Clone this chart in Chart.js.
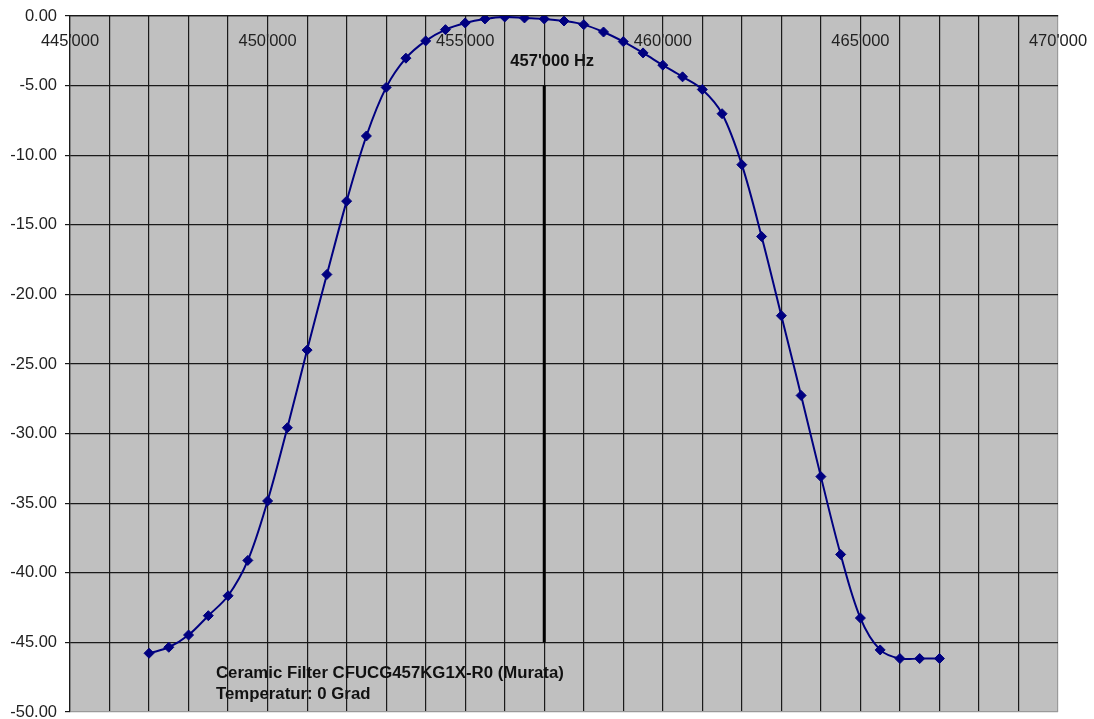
<!DOCTYPE html>
<html>
<head>
<meta charset="utf-8">
<script src="https://cdn.jsdelivr.net/npm/chart.js@4.4.1/dist/chart.umd.min.js"></script>
<style>
html,body{margin:0;padding:0;background:#ffffff;}
#wrap{width:1094px;height:719px;position:relative;}
</style>
</head>
<body>
<div id="wrap"><canvas id="chart"></canvas></div>
<script>
// ---- data ----
const frequencies = [
  447000, 447500, 448000, 448500, 449000, 449500, 450000, 450500, 451000, 451500,
  452000, 452500, 453000, 453500, 454000, 454500, 455000, 455500, 456000, 456500,
  457000, 457500, 458000, 458500, 459000, 459500, 460000, 460500, 461000, 461500,
  462000, 462500, 463000, 463500, 464000, 464500, 465000, 465500, 466000, 466500,
  467000
];
const attenuation = [
  -45.78, -45.35, -44.47, -43.08, -41.65, -39.11, -34.84, -29.58, -24.00, -18.57,
  -13.30, -8.62, -5.13, -3.03, -1.79, -0.98, -0.50, -0.21, -0.07, -0.14,
  -0.21, -0.36, -0.62, -1.15, -1.84, -2.65, -3.53, -4.37, -5.28, -7.02,
  -10.68, -15.84, -21.53, -27.26, -33.09, -38.68, -43.25, -45.54, -46.16, -46.16,
  -46.16
];
const markerFrequency = [457000, 457000];
const markerLevel = [-5, -45];
const markerLabel = "457'000 Hz";
const noteLines = ["Ceramic Filter CFUCG457KG1X-R0 (Murata)", "Temperatur: 0 Grad"];
const xMin = 445000, xMax = 470000, xGridStep = 1000, xLabelStep = 5000;
const yMin = -50, yMax = 0, yStep = 5;

// ---- helpers ----
const FONT = '"Liberation Sans", Arial, Helvetica, sans-serif';
function fmtThousands(v) {
  return String(Math.round(v)).replace(/\B(?=(\d{3})+(?!\d))/g, "'");
}

const plotBackground = {
  id: 'plotBackground',
  beforeDraw(chart) {
    const {ctx, chartArea: a} = chart;
    ctx.save();
    ctx.fillStyle = '#c0c0c0';
    ctx.fillRect(a.left, a.top, a.right - a.left, a.bottom - a.top);
    ctx.restore();
  }
};

const textNotes = {
  id: 'textNotes',
  afterDatasetsDraw(chart) {
    const {ctx, chartArea: a, scales: {x, y}} = chart;
    ctx.save();
    ctx.fillStyle = '#111111';
    ctx.font = 'bold 16.5px ' + FONT;
    ctx.textBaseline = 'middle';
    ctx.textAlign = 'center';
    ctx.fillText(markerLabel, x.getPixelForValue(markerFrequency[0]) + 8, y.getPixelForValue(markerLevel[0]) - 24);
    ctx.textAlign = 'left';
    ctx.font = 'bold 16.8px ' + FONT;
    ctx.fillText(noteLines[0], a.left + 146, a.bottom - 39);
    ctx.fillText(noteLines[1], a.left + 146, a.bottom - 18);
    ctx.restore();
  }
};

new Chart(document.getElementById('chart'), {
  type: 'line',
  data: {
    datasets: [
      {
        label: 'Attenuation',
        data: frequencies.map((f, i) => ({x: f, y: attenuation[i]})),
        borderColor: '#000080',
        backgroundColor: '#000080',
        borderWidth: 2,
        pointStyle: 'rectRot',
        pointRadius: 5,
        pointBorderWidth: 1,
        pointBorderColor: '#000080',
        tension: 0.35,
        fill: false
      },
      {
        label: 'Marker',
        data: markerFrequency.map((f, i) => ({x: f, y: markerLevel[i]})),
        borderColor: '#000000',
        borderWidth: 3,
        pointRadius: 0,
        tension: 0,
        fill: false
      }
    ]
  },
  options: {
    responsive: true,
    maintainAspectRatio: false,
    animation: false,
    events: [],
    layout: {padding: {left: 10, right: 36, top: 16, bottom: 7}},
    plugins: {legend: {display: false}, tooltip: {enabled: false}, title: {display: false}},
    scales: {
      x: {
        type: 'linear',
        position: {y: 0},
        min: xMin,
        max: xMax,
        afterFit(s) { s.paddingLeft = 0; s.paddingRight = 0; },
        ticks: {
          stepSize: xGridStep,
          autoSkip: false,
          maxRotation: 0,
          padding: 16,
          color: '#222222',
          font: {family: FONT, size: 16.5},
          callback: (v) => (v % xLabelStep === 0 ? fmtThousands(v) : '')
        },
        grid: {
          drawTicks: false,
          lineWidth: 1.2,
          color: (c) => (c.tick && c.tick.value === xMax ? '#9a9a9a' : '#1a1a1a')
        },
        border: {display: true, color: '#1a1a1a', width: 1.2}
      },
      y: {
        type: 'linear',
        position: 'left',
        min: yMin,
        max: yMax,
        afterFit(s) { s.width = 60; s.paddingTop = 0; s.paddingBottom = 0; },
        ticks: {
          stepSize: yStep,
          padding: 8,
          color: '#222222',
          font: {family: FONT, size: 16.5, lineHeight: 1},
          callback: (v) => Number(v).toFixed(2)
        },
        grid: {
          drawTicks: true,
          tickLength: 5,
          lineWidth: 1.2,
          color: (c) => (c.tick && c.tick.value === yMin ? '#9a9a9a' : '#1a1a1a'),
          tickColor: '#1a1a1a'
        },
        border: {display: true, color: '#1a1a1a', width: 1.2}
      }
    }
  },
  plugins: [plotBackground, textNotes]
});
</script>
</body>
</html>
